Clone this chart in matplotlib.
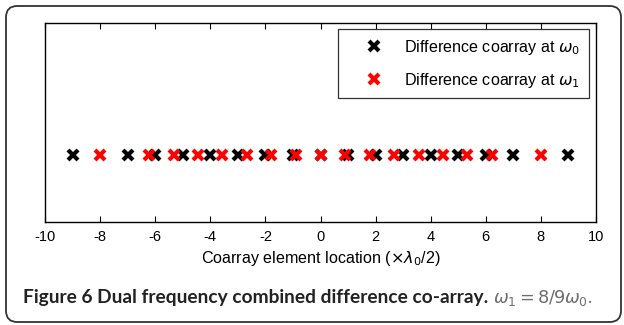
import matplotlib
matplotlib.use("Agg")
import matplotlib.pyplot as plt
from matplotlib.patches import FancyBboxPatch

# Data
coarray_w0 = [-9, -7, -6, -5, -4, -3, -2, -1, 0, 1, 2, 3, 4, 5, 6, 7, 9]
coarray_w1 = [-8, -6.22, -5.33, -4.44, -3.56, -2.67, -1.78, -0.89, 0,
              0.89, 1.78, 2.67, 3.56, 4.44, 5.33, 6.22, 8]
xticks = [-10, -8, -6, -4, -2, 0, 2, 4, 6, 8, 10]
row_level = 1.0
label_w0 = r"Difference coarray at $\omega_0$"
label_w1 = r"Difference coarray at $\omega_1$"
xlabel = r"Coarray element location ($\times\lambda_0$/2)"
caption_bold = "Figure 6 Dual frequency combined difference co-array."
caption_math = r"$\omega_1 = 8/9\omega_0$."

plt.rcParams['font.family'] = ['Liberation Sans', 'DejaVu Sans']
plt.rcParams['mathtext.fontset'] = 'custom'
plt.rcParams['mathtext.rm'] = 'DejaVu Sans'
plt.rcParams['mathtext.it'] = 'DejaVu Sans:italic'

W, H = 624, 325
fig = plt.figure(figsize=(W/100, H/100), dpi=100)
renderer = fig.canvas.get_renderer()


def fit_size(text, target_px, base=10, **kw):
    t = fig.text(0, 0, text, fontsize=base, **kw)
    w = t.get_window_extent(renderer).width
    t.remove()
    return base * target_px / w


# outer rounded border
border = FancyBboxPatch((6/W, 3/H), 615/W, 316/H,
                        boxstyle="round,pad=0,rounding_size=0.018",
                        transform=fig.transFigure, fill=False,
                        edgecolor='#333333', linewidth=1.3, mutation_aspect=W/H)
fig.patches.append(border)

ax = fig.add_axes([45/W, 1-222/H, 551/W, 199/H])
ax.plot(coarray_w0, [row_level]*len(coarray_w0), linestyle='none', marker='x',
        color='black', markersize=7.5, mew=3, label=label_w0)
ax.plot(coarray_w1, [row_level]*len(coarray_w1), linestyle='none', marker='x',
        color='#ff0000', markersize=7.5, mew=3, label=label_w1)
ax.set_xlim(-10, 10)
ax.set_ylim(0, 2.97)
ax.set_xticks(xticks)
ax.set_xticklabels([str(t) for t in xticks])
ax.set_yticks([])
ax.tick_params(axis='x', direction='in', length=4, top=True, labelsize=10.5, pad=6)
for s in ax.spines.values():
    s.set_linewidth(1.0)
xl_fs = fit_size(xlabel, 240)
ax.set_xlabel(xlabel, fontsize=xl_fs, labelpad=3)

leg_fs = fit_size(label_w0, 176)
leg = ax.legend(loc='upper right', bbox_to_anchor=(0.987, 0.97), borderaxespad=0,
                prop={'size': leg_fs}, frameon=True, fancybox=False, edgecolor='black',
                handlelength=3.4, handletextpad=0.15, labelspacing=0.85, borderpad=0.55)
leg.get_frame().set_linewidth(0.9)

# caption
cap_fs = fit_size(caption_bold, 469, fontweight='bold', family='Lato')
t1 = fig.text(23/W, 1-303/H, caption_bold,
              fontsize=cap_fs, fontweight='bold', family='Lato', color='#222222',
              va='baseline', ha='left')
bb = t1.get_window_extent(renderer)
m_fs = min(fit_size(caption_math, 112, family='Lato'), cap_fs * 0.92)
fig.text((bb.x1 + 5)/W, 1-303/H, caption_math,
         fontsize=m_fs, color='#6e6e6e', va='baseline', ha='left', family='Lato')

fig.savefig("out.png", dpi=100)
